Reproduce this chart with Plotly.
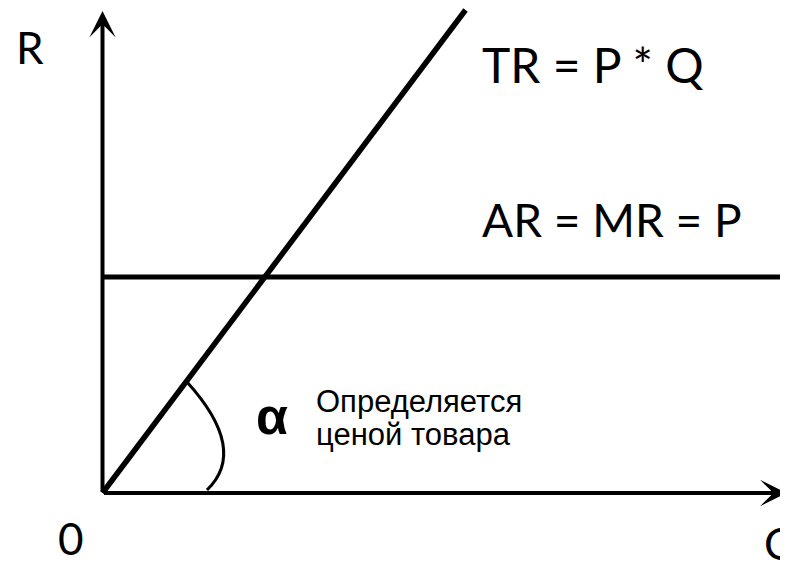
import plotly.graph_objects as go

# Geometry in data units (origin of the diagram at 0,0)
origin = [0, 0]
y_axis_tip = [0, 482]
x_axis_tip = [684, 0]
tr_line_x = [0, 363]
tr_line_y = [0, 483]
ar_level = 216
ar_line_x = [0, 686]
arc_x = [84.5, 146, 104.5]   # start, control, end (quadratic)
arc_y = [111, 43, 3]

labels = {
    "R": (-89, 418, "bottom"),
    "0": (-47, -17, "top"),
    "Q": (659, -22, "top"),
    "TR = P * Q": (377, 398, "bottom"),
    "AR = MR = P": (377, 244.5, "bottom"),
    "α": (151, 46, "bottom"),
    "Определяется": (211, 72, "bottom"),
    "ценой товара": (211, 39, "bottom"),
}

fig = go.Figure()

fig.add_trace(go.Scatter(x=tr_line_x, y=tr_line_y, mode="lines",
                         line=dict(color="black", width=5.5), hoverinfo="skip"))
fig.add_trace(go.Scatter(x=ar_line_x, y=[ar_level, ar_level], mode="lines",
                         line=dict(color="black", width=5), hoverinfo="skip"))

fig.add_shape(type="path",
              path=f"M {arc_x[0]},{arc_y[0]} Q {arc_x[1]},{arc_y[1]} {arc_x[2]},{arc_y[2]}",
              xref="x", yref="y", line=dict(color="black", width=3))

# axes with arrowheads
for tip in (y_axis_tip, x_axis_tip):
    fig.add_annotation(x=tip[0], y=tip[1], ax=origin[0], ay=origin[1],
                       xref="x", yref="y", axref="x", ayref="y",
                       text="", showarrow=True, arrowhead=3, arrowsize=1.1,
                       arrowwidth=4, arrowcolor="black")

def lab(key, size, family, bold=False):
    x, y, ya = labels[key]
    txt = f"<b>{key}</b>" if bold else key
    fig.add_annotation(x=x, y=y, xref="x", yref="y", text=txt, showarrow=False,
                       xanchor="left", yanchor=ya,
                       font=dict(size=size, family=family, color="black"))

lab("R", 44, "Lato")
lab("0", 44, "Lato")
lab("Q", 44, "Lato")
lab("TR = P * Q", 48, "Lato")
lab("AR = MR = P", 46, "Lato")
lab("α", 52, "Liberation Sans", bold=True)
lab("Определяется", 31, "Liberation Sans")
lab("ценой товара", 31, "Liberation Sans")

# The page body adds an 8px offset; ranges are chosen so the diagram lands
# where the reference has it.
fig.update_layout(
    width=788, height=563,
    margin=dict(l=0, r=0, t=0, b=0),
    paper_bgcolor="white", plot_bgcolor="white",
    showlegend=False,
    xaxis=dict(range=[-94.5, 693.5], visible=False, fixedrange=True),
    yaxis=dict(range=[-78, 485], visible=False, fixedrange=True),
)

fig.write_html("out.html")
